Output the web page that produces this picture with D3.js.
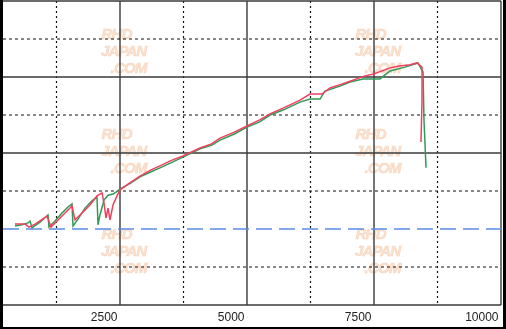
<!DOCTYPE html>
<html>
<head>
<meta charset="utf-8">
<script src="https://cdn.jsdelivr.net/npm/d3@7"></script>
<style>
  html, body { margin: 0; padding: 0; background: #000; }
  svg { display: block; }
</style>
</head>
<body>
<div id="chart-area"></div>
<script>
// chart values (rpm on x, grid units on y)
const rpmRed = [433, 630, 709, 827, 1043, 1063, 1142, 1319, 1516, 1555, 1614, 1713, 1909, 2047, 2146, 2185, 2224, 2264, 2303, 2362, 2441, 2500,
  2700, 2894, 3100, 3287, 3500, 3740, 4075, 4300, 4469, 4750, 5000, 5250, 5453, 5709, 5900, 6043, 6240, 6476, 6634, 6831, 7028, 7200, 7323, 7500, 7650, 7815, 8000, 8209, 8346, 8445, 8445, 8425]
const valRed = [2.13, 2.13, 2.05, 2.13, 2.32, 2.34, 2.05, 2.29, 2.55, 2.61, 2.24, 2.37, 2.63, 2.87, 2.95, 2.68, 2.29, 2.55, 2.24, 2.63, 2.87, 3.03,
  3.22, 3.39, 3.55, 3.66, 3.8, 3.92, 4.13, 4.24, 4.39, 4.55, 4.71, 4.87, 5.03, 5.18, 5.3, 5.39, 5.55, 5.55, 5.71, 5.8, 5.89, 5.97, 6.03, 6.08, 6.16, 6.24, 6.29, 6.32, 6.37, 6.26, 5.39, 4.29]
const rpmGreen = [433, 571, 689, 728, 768, 925, 1063, 1083, 1102, 1220, 1358, 1476, 1555, 1575, 1673, 1811, 1949, 2047, 2067, 2106, 2185, 2264, 2362, 2421, 2500,
  2700, 2894, 3100, 3287, 3500, 3740, 4075, 4300, 4469, 4750, 5000, 5250, 5453, 5709, 6043, 6240, 6437, 6535, 6831, 7028, 7283, 7618, 7815, 8110, 8366, 8465, 8484, 8524]
const valGreen = [2.08, 2.11, 2.16, 2.21, 2.03, 2.18, 2.34, 2.37, 2.05, 2.21, 2.42, 2.58, 2.66, 2.08, 2.26, 2.55, 2.74, 2.84, 2.11, 2.37, 2.76, 2.89, 2.92, 2.97, 3.05,
  3.2, 3.37, 3.5, 3.61, 3.74, 3.89, 4.11, 4.2, 4.34, 4.5, 4.68, 4.82, 5.0, 5.13, 5.34, 5.42, 5.42, 5.63, 5.76, 5.87, 5.95, 5.95, 6.16, 6.26, 6.37, 6.13, 4.87, 3.61]
const blueLevel = 2
const xTicks = [2500, 5000, 7500, 10000]
const xGrid = [1250, 2500, 3750, 5000, 6250, 7500, 8750, 10000]
const yGrid = [1, 2, 3, 4, 5, 6, 7, 8]
const marks = [[2500, 7.0], [7500, 7.0], [2500, 4.37], [7500, 4.37], [2500, 1.74], [7500, 1.74]]

const W = 506, H = 329

const svg = d3.select("#chart-area").append("svg")
  .attr("width", W)
  .attr("height", H)

// white paper
svg.append("rect")
  .attr("x", 3).attr("y", 0)
  .attr("width", 500).attr("height", 327)
  .attr("fill", "#fff")

const x = d3.scaleLinear().domain([0, 10000]).range([-7, 501])
const y = d3.scaleLinear().domain([0, 8]).range([305, 1])

const left = 3

// watermark
const wm = svg.append("g").attr("font-family", "Liberation Sans, Arial, sans-serif")
  .attr("font-weight", "bold").attr("font-style", "italic")
  .attr("fill", "#f6c29c").attr("stroke", "#eaa676").attr("stroke-width", 0.5)
  .attr("opacity", 0.5).attr("text-anchor", "middle").attr("font-size", 15)
marks.forEach(m => {
  const g = wm.append("g").attr("transform", `translate(${x(m[0]) + 4}, ${y(m[1])})`)
  g.append("text").attr("x", -7).attr("y", 0).attr("textLength", 31).text("RHD")
  g.append("text").attr("x", 0).attr("y", 17).attr("textLength", 46).text("JAPAN")
  g.append("text").attr("x", 5).attr("y", 34).attr("textLength", 37).text(".COM")
})

// grid
svg.selectAll(".vgrid").data(xGrid).enter().append("line")
  .attr("class", "vgrid")
  .attr("x1", d => x(d)).attr("x2", d => x(d))
  .attr("y1", y(8)).attr("y2", y(0))
  .attr("stroke", (d, i) => i % 2 ? "#3a3a3a" : "#111")
  .attr("stroke-width", (d, i) => i % 2 ? 1.4 : 1.2)
  .attr("stroke-dasharray", (d, i) => i % 2 ? null : "2,3")

svg.selectAll(".hgrid").data(yGrid.filter(d => d !== blueLevel)).enter().append("line")
  .attr("class", "hgrid")
  .attr("x1", left).attr("x2", x(10000))
  .attr("y1", d => y(d)).attr("y2", d => y(d))
  .attr("stroke", d => d % 2 ? "#111" : "#3a3a3a")
  .attr("stroke-width", d => d % 2 ? 1.2 : 1.4)
  .attr("stroke-dasharray", d => d % 2 ? "3,3" : null)

// bottom border
svg.append("line")
  .attr("x1", left).attr("x2", x(10000))
  .attr("y1", y(0)).attr("y2", y(0))
  .attr("stroke", "#3a3a3a").attr("stroke-width", 1.4)

// blue reference line
svg.append("line")
  .attr("x1", left).attr("x2", x(10000))
  .attr("y1", y(blueLevel)).attr("y2", y(blueLevel))
  .attr("stroke", "#5b8de6").attr("stroke-width", 1.4)
  .attr("stroke-dasharray", "16,7")

// curves
const line = d3.line().x(d => x(d[0])).y(d => y(d[1]))
svg.append("path")
  .datum(d3.zip(rpmGreen, valGreen))
  .attr("d", line)
  .attr("fill", "none").attr("stroke", "#2f9a55").attr("stroke-width", 1.5)
svg.append("path")
  .datum(d3.zip(rpmRed, valRed))
  .attr("d", line)
  .attr("fill", "none").attr("stroke", "#f0405e").attr("stroke-width", 1.5)

// x axis labels
const xAxis = d3.axisBottom(x).tickValues(xTicks).tickSize(0).tickFormat(d => d)
const ax = svg.append("g")
  .attr("transform", `translate(0, ${y(0)})`)
  .call(xAxis)
ax.select(".domain").remove()
ax.selectAll("text")
  .attr("text-anchor", "end")
  .attr("dx", -3)
  .attr("y", 16)
  .attr("dy", 0)
  .attr("fill", "#222")
  .attr("font-size", 12)
  .attr("font-family", "Liberation Sans, Arial, sans-serif")
</script>
</body>
</html>
